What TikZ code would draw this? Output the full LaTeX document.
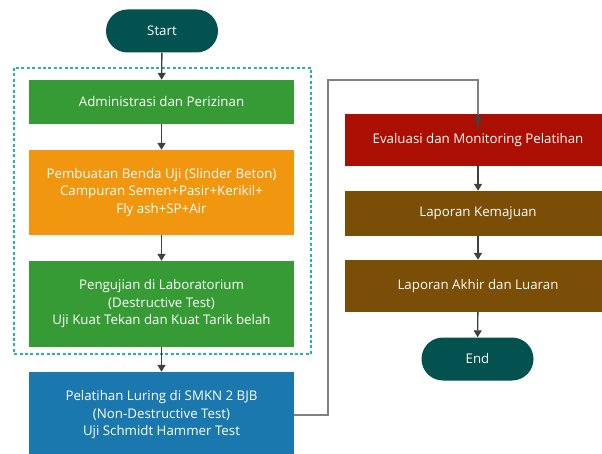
\documentclass[tikz,border=0pt]{standalone}
\usepackage{fontspec}
\setmainfont{Open Sans}
\usetikzlibrary{arrows.meta,positioning,shapes.misc}
\definecolor{terminalteal}{HTML}{03524F}
\definecolor{stepgreen}{HTML}{379B35}
\definecolor{steporange}{HTML}{F0960F}
\definecolor{stepblue}{HTML}{1A78AE}
\definecolor{stepred}{HTML}{AA0F02}
\definecolor{stepbrown}{HTML}{7A4E06}
\definecolor{groupteal}{HTML}{20B4B4}
\definecolor{arrowgray}{HTML}{404040}
\definecolor{loopgray}{HTML}{808080}
\tikzset{FCTerminal/.style={rounded rectangle,fill=terminalteal,text=white,minimum width=112pt,minimum height=43pt,inner sep=0pt}}
\tikzset{FCStep/.style={rectangle,text=white,minimum width=265pt,inner sep=0pt,align=center}}
\tikzset{FCFlow/.style={draw=arrowgray,line width=1.4pt,-{Triangle[width=8pt,length=7pt]}}}
\tikzset{FCLoop/.style={draw=loopgray,line width=1.4pt}}
\tikzset{FCGroup/.style={draw=groupteal,line width=2.4pt,dash pattern=on 3pt off 2.4pt}}

\begin{document}
\begin{tikzpicture}[x=1pt,y=-1pt,font=\fontsize{13.3}{17.5}\selectfont]
\clip (0,0) rectangle (602,454);
\fill[white] (0,0) rectangle (602,454);
\node (start) at (162,31) [FCTerminal] {Start};
\node (admin) at (161.5,102) [FCStep,fill=stepgreen,minimum height=44pt] {Administrasi dan Perizinan};
\node (mix) at (161.5,192.5) [FCStep,fill=steporange,minimum height=85pt] {Pembuatan Benda Uji (Slinder Beton)\\Campuran Semen+Pasir+Kerikil+\\Fly ash+SP+Air};
\node (lab) at (161.5,304) [FCStep,fill=stepgreen,minimum height=86pt] {Pengujian di Laboratorium\\(Destructive Test)\\Uji Kuat Tekan dan Kuat Tarik belah};
\node (train) at (161.5,415) [FCStep,fill=stepblue,minimum height=86pt] {Pelatihan Luring di SMKN 2 BJB\\(Non-Destructive Test)\\Uji Schmidt Hammer Test};
\node (eval) at (478,140) [FCStep,fill=stepred,minimum width=266pt,minimum height=52pt] {Evaluasi dan Monitoring Pelatihan};
\node (progress) at (478,213.5) [FCStep,fill=stepbrown,minimum width=266pt,minimum height=45pt] {Laporan Kemajuan};
\node (final) at (478,286) [FCStep,fill=stepbrown,minimum width=266pt,minimum height=52pt] {Laporan Akhir dan Luaran};
\node (end) at (477.5,359) [FCTerminal] {End};
\coordinate (up) at (328,80);
\draw [FCGroup] (14,68) rectangle (311,354);
\draw [FCFlow] (start) -- (admin);
\draw [FCFlow] (admin) -- (mix);
\draw [FCFlow] (mix) -- (lab);
\draw [FCFlow] (lab) -- (train);
\draw [FCLoop] (train.east) -| (up) -| ([yshift=-14pt]eval.north);
\draw [FCFlow] ([yshift=-15pt]eval.north) -- (eval.north);
\draw [FCFlow] (eval) -- (progress);
\draw [FCFlow] (progress) -- (final);
\draw [FCFlow] (final) -- (end);
\end{tikzpicture}
\end{document}
